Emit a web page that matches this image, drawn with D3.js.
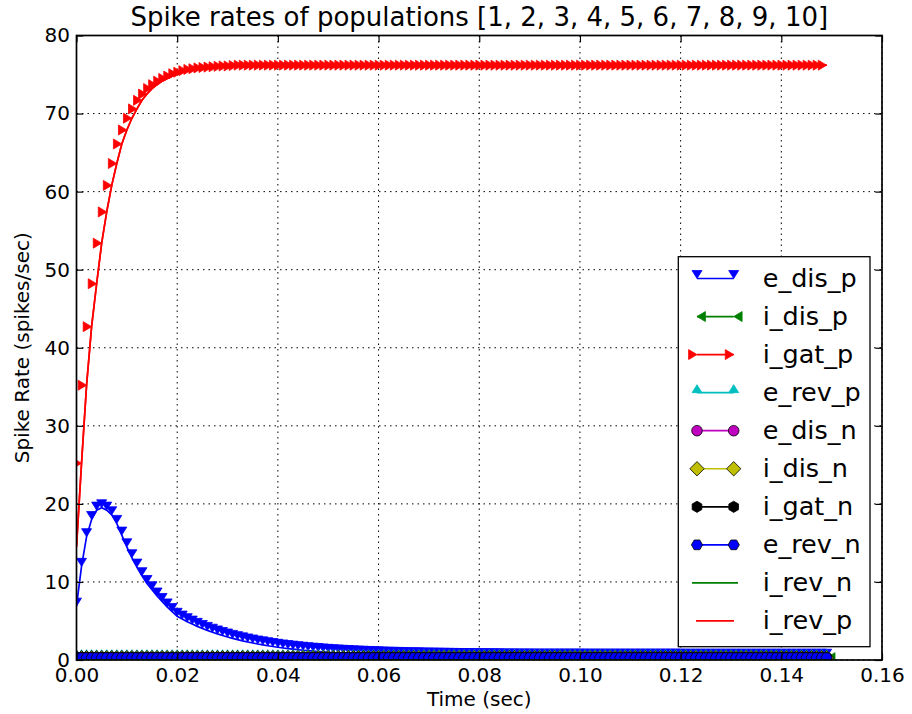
<!DOCTYPE html>
<html>
<head>
<meta charset="utf-8">
<script src="https://cdn.jsdelivr.net/npm/d3@7"></script>
<style>
  body { margin: 0; background: #fff; }
  text { font-family: "DejaVu Sans", sans-serif; fill: #000; }
</style>
</head>
<body>
<div id="chart"></div>
<script>
// sample times (ms)
const timeMs = [
  0, 1, 2, 3, 4, 5, 6, 7, 8, 9, 10, 11, 12, 13, 14, 15, 16, 17, 18, 19, 20, 21, 22, 23, 24,
  25, 26, 27, 28, 29, 30, 31, 32, 33, 34, 35, 36, 37, 38, 39, 40, 41, 42, 43, 44, 45, 46, 47, 48, 49,
  50, 51, 52, 53, 54, 55, 56, 57, 58, 59, 60, 61, 62, 63, 64, 65, 66, 67, 68, 69, 70, 71, 72, 73, 74,
  75, 76, 77, 78, 79, 80, 81, 82, 83, 84, 85, 86, 87, 88, 89, 90, 91, 92, 93, 94, 95, 96, 97, 98, 99,
  100, 101, 102, 103, 104, 105, 106, 107, 108, 109, 110, 111, 112, 113, 114, 115, 116, 117, 118, 119, 120, 121, 122, 123, 124,
  125, 126, 127, 128, 129, 130, 131, 132, 133, 134, 135, 136, 137, 138, 139, 140, 141, 142, 143, 144, 145, 146, 147, 148, 149
];

const eDisP = [
  6.9, 12.0, 15.8, 18.0, 19.2, 19.5, 19.2, 18.6, 17.5, 16.0, 14.5, 13.1, 11.9, 10.8, 9.8, 9.0, 8.2, 7.5, 6.8, 6.2,
  5.6, 5.24, 4.91, 4.60, 4.31, 4.04, 3.79, 3.56, 3.34, 3.14, 2.95, 2.77, 2.61, 2.45, 2.31, 2.18, 2.05, 1.94, 1.83, 1.73,
  1.63, 1.54, 1.46, 1.39, 1.32, 1.25, 1.19, 1.13, 1.08, 1.03, 0.98, 0.94, 0.90, 0.86, 0.83, 0.79, 0.76, 0.74, 0.71, 0.69,
  0.66, 0.64, 0.62, 0.60, 0.59, 0.57, 0.55, 0.54, 0.53, 0.52, 0.51, 0.50, 0.49, 0.48, 0.47, 0.46, 0.45, 0.44, 0.44, 0.43,
  0.43, 0.42, 0.42, 0.41, 0.41, 0.40, 0.40, 0.40, 0.39, 0.39, 0.39, 0.38, 0.38, 0.38, 0.38, 0.38, 0.38, 0.38, 0.38, 0.38,
  0.38, 0.37, 0.37, 0.37, 0.37, 0.37, 0.37, 0.37, 0.37, 0.37, 0.37, 0.37, 0.37, 0.37, 0.37, 0.37, 0.37, 0.37, 0.37, 0.37,
  0.37, 0.36, 0.36, 0.36, 0.36, 0.36, 0.36, 0.36, 0.36, 0.36, 0.36, 0.36, 0.36, 0.36, 0.36, 0.36, 0.36, 0.36, 0.36, 0.36,
  0.36, 0.36, 0.36, 0.36, 0.36, 0.36, 0.36, 0.36, 0.36, 0.36
];

const iGatP = [
  14.5, 25.2, 35.2, 42.7, 48.2, 53.4, 57.4, 60.8, 63.6, 66.1, 67.9, 69.4, 70.6, 71.7, 72.5, 73.2, 73.7, 74.15, 74.5, 74.8,
  75.1, 75.3, 75.5, 75.65, 75.75, 75.85, 75.9, 75.95, 76.0, 76.05, 76.1, 76.1, 76.15, 76.2, 76.2, 76.2, 76.2, 76.2, 76.2, 76.2,
  76.2, 76.2, 76.2, 76.2, 76.2, 76.2, 76.2, 76.2, 76.2, 76.2, 76.2, 76.2, 76.2, 76.2, 76.2, 76.2, 76.2, 76.2, 76.2, 76.2,
  76.2, 76.2, 76.2, 76.2, 76.2, 76.2, 76.2, 76.2, 76.2, 76.2, 76.2, 76.2, 76.2, 76.2, 76.2, 76.2, 76.2, 76.2, 76.2, 76.2,
  76.2, 76.2, 76.2, 76.2, 76.2, 76.2, 76.2, 76.2, 76.2, 76.2, 76.2, 76.2, 76.2, 76.2, 76.2, 76.2, 76.2, 76.2, 76.2, 76.2,
  76.2, 76.2, 76.2, 76.2, 76.2, 76.2, 76.2, 76.2, 76.2, 76.2, 76.2, 76.2, 76.2, 76.2, 76.2, 76.2, 76.2, 76.2, 76.2, 76.2,
  76.2, 76.2, 76.2, 76.2, 76.2, 76.2, 76.2, 76.2, 76.2, 76.2, 76.2, 76.2, 76.2, 76.2, 76.2, 76.2, 76.2, 76.2, 76.2, 76.2,
  76.2, 76.2, 76.2, 76.2, 76.2, 76.2, 76.2, 76.2, 76.2, 76.2
];

// the i_rev_p line lies on top of the i_gat_p line in the picture
const iRevP = iGatP;

// e_rev_p, i_dis_p and the *_n populations with markers sit just above the floor
const flatRates = [
  0.3, 0.3, 0.3, 0.3, 0.3, 0.3, 0.3, 0.3, 0.3, 0.3, 0.3, 0.3, 0.3, 0.3, 0.3, 0.3, 0.3, 0.3, 0.3, 0.3, 0.3, 0.3, 0.3, 0.3, 0.3,
  0.3, 0.3, 0.3, 0.3, 0.3, 0.3, 0.3, 0.3, 0.3, 0.3, 0.3, 0.3, 0.3, 0.3, 0.3, 0.3, 0.3, 0.3, 0.3, 0.3, 0.3, 0.3, 0.3, 0.3, 0.3,
  0.3, 0.3, 0.3, 0.3, 0.3, 0.3, 0.3, 0.3, 0.3, 0.3, 0.3, 0.3, 0.3, 0.3, 0.3, 0.3, 0.3, 0.3, 0.3, 0.3, 0.3, 0.3, 0.3, 0.3, 0.3,
  0.3, 0.3, 0.3, 0.3, 0.3, 0.3, 0.3, 0.3, 0.3, 0.3, 0.3, 0.3, 0.3, 0.3, 0.3, 0.3, 0.3, 0.3, 0.3, 0.3, 0.3, 0.3, 0.3, 0.3, 0.3,
  0.3, 0.3, 0.3, 0.3, 0.3, 0.3, 0.3, 0.3, 0.3, 0.3, 0.3, 0.3, 0.3, 0.3, 0.3, 0.3, 0.3, 0.3, 0.3, 0.3, 0.3, 0.3, 0.3, 0.3, 0.3,
  0.3, 0.3, 0.3, 0.3, 0.3, 0.3, 0.3, 0.3, 0.3, 0.3, 0.3, 0.3, 0.3, 0.3, 0.3, 0.3, 0.3, 0.3, 0.3, 0.3, 0.3, 0.3, 0.3, 0.3, 0.3
];

// i_rev_n is not visible above the axis line
const iRevN = [
  0, 0, 0, 0, 0, 0, 0, 0, 0, 0, 0, 0, 0, 0, 0, 0, 0, 0, 0, 0, 0, 0, 0, 0, 0,
  0, 0, 0, 0, 0, 0, 0, 0, 0, 0, 0, 0, 0, 0, 0, 0, 0, 0, 0, 0, 0, 0, 0, 0, 0,
  0, 0, 0, 0, 0, 0, 0, 0, 0, 0, 0, 0, 0, 0, 0, 0, 0, 0, 0, 0, 0, 0, 0, 0, 0,
  0, 0, 0, 0, 0, 0, 0, 0, 0, 0, 0, 0, 0, 0, 0, 0, 0, 0, 0, 0, 0, 0, 0, 0, 0,
  0, 0, 0, 0, 0, 0, 0, 0, 0, 0, 0, 0, 0, 0, 0, 0, 0, 0, 0, 0, 0, 0, 0, 0, 0,
  0, 0, 0, 0, 0, 0, 0, 0, 0, 0, 0, 0, 0, 0, 0, 0, 0, 0, 0, 0, 0, 0, 0, 0, 0
];

const labels = ['e_dis_p', 'i_dis_p', 'i_gat_p', 'e_rev_p', 'e_dis_n', 'i_dis_n', 'i_gat_n', 'e_rev_n', 'i_rev_n', 'i_rev_p'];
const xTicks = [0, 0.02, 0.04, 0.06, 0.08, 0.10, 0.12, 0.14, 0.16];
const yTicks = [0, 10, 20, 30, 40, 50, 60, 70, 80];

const WIDTH = 912;
const HEIGHT = 714;
const LEFT = 76.5;
const RIGHT = 882;
const TOP = 35.5;
const BOTTOM = 660;

// marker shapes, drawn around the data point the way the old renderer placed them
const markerPaths = {
  v: 'M0,0L-5,-8L5,-8Z',
  '>': 'M0,0L-8.4,-5L-8.4,5Z',
  '<': 'M0,0L8.4,-5L8.4,5Z',
  '^': 'M-5,0L5,0L0,-8Z',
  o: d3.symbol(d3.symbolCircle, Math.PI * 5.3 * 5.3)(),
  D: 'M0,-7.2L7.2,0L0,7.2L-7.2,0Z',
  h: 'M0,-5.6L4.85,-2.8L4.85,2.8L0,5.6L-4.85,2.8L-4.85,-2.8Z',
  H: 'M-5.6,0L-2.8,-4.85L2.8,-4.85L5.6,0L2.8,4.85L-2.8,4.85Z',
};

const series = [
  { values: eDisP, color: '#0000ff', marker: 'v', edge: '#0000ff' },
  { values: flatRates, color: '#008000', marker: '<', edge: '#008000' },
  { values: iGatP, color: '#ff0000', marker: '>', edge: '#ff0000' },
  { values: flatRates, color: '#00bfbf', marker: '^', edge: '#00bfbf' },
  { values: flatRates, color: '#bf00bf', marker: 'o', edge: '#000' },
  { values: flatRates, color: '#bfbf00', marker: 'D', edge: '#000' },
  { values: flatRates, color: '#000000', marker: 'h', edge: '#000' },
  { values: flatRates, color: '#0000ff', marker: 'H', edge: '#000' },
  { values: iRevN, color: '#008000', marker: null },
  { values: iRevP, color: '#ff0000', marker: null },
].map((s, i) => ({
  ...s,
  label: labels[i],
  points: timeMs.map((t, j) => [t / 1000, s.values[j]]),
}));

const svg = d3.create('svg').attr('width', WIDTH).attr('height', HEIGHT);
svg.append('rect').attr('width', WIDTH).attr('height', HEIGHT).attr('fill', '#fff');

const xScale = d3.scaleLinear().domain([0, 0.16]).range([LEFT, RIGHT]);
const yScale = d3.scaleLinear().domain([0, 80]).range([BOTTOM, TOP]);

svg
  .append('clipPath')
  .attr('id', 'plot-clip')
  .append('rect')
  .attr('x', LEFT)
  .attr('y', TOP)
  .attr('width', RIGHT - LEFT)
  .attr('height', BOTTOM - TOP);

// dotted grid
const grid = svg.append('g').attr('stroke', '#000').attr('stroke-width', 1).attr('stroke-dasharray', '1.5,4');
grid
  .selectAll('.gx')
  .data(xTicks)
  .join('line')
  .attr('x1', (d) => xScale(d))
  .attr('x2', (d) => xScale(d))
  .attr('y1', TOP)
  .attr('y2', BOTTOM);
grid
  .selectAll('.gy')
  .data(yTicks)
  .join('line')
  .attr('x1', LEFT)
  .attr('x2', RIGHT)
  .attr('y1', (d) => yScale(d))
  .attr('y2', (d) => yScale(d));

const plot = svg.append('g').attr('clip-path', 'url(#plot-clip)');
const line = d3
  .line()
  .x((d) => xScale(d[0]))
  .y((d) => yScale(d[1]));

series.forEach((s) => {
  const g = plot.append('g');
  g.append('path')
    .attr('d', line(s.points))
    .attr('fill', 'none')
    .attr('stroke', s.color)
    .attr('stroke-width', 1.7);
  if (s.marker) {
    g.selectAll('path.m')
      .data(s.points)
      .join('path')
      .attr('class', 'm')
      .attr('d', markerPaths[s.marker])
      .attr('transform', (d) => `translate(${xScale(d[0])},${yScale(d[1])})`)
      .attr('fill', s.color)
      .attr('stroke', s.edge)
      .attr('stroke-width', 0.8);
  }
});

// frame and inward ticks on all sides
const axes = svg.append('g');
const fmtX = d3.format('.2f');
axes
  .append('g')
  .attr('transform', `translate(0,${BOTTOM})`)
  .call(d3.axisBottom(xScale).tickValues(xTicks).tickSize(-6.7).tickPadding(8).tickFormat(fmtX));
axes
  .append('g')
  .attr('transform', `translate(0,${TOP})`)
  .call(d3.axisTop(xScale).tickValues(xTicks).tickSize(-6.7).tickFormat(''));
axes
  .append('g')
  .attr('transform', `translate(${LEFT},0)`)
  .call(d3.axisLeft(yScale).tickValues(yTicks).tickSize(-6.7).tickPadding(6.5));
axes
  .append('g')
  .attr('transform', `translate(${RIGHT},0)`)
  .call(d3.axisRight(yScale).tickValues(yTicks).tickSize(-6.7).tickFormat(''));
axes.selectAll('.domain').remove();
axes.selectAll('.tick line').attr('stroke', '#000').attr('stroke-width', 1.2);
axes.selectAll('.tick text').attr('font-size', 20).attr('font-family', 'DejaVu Sans').attr('fill', '#000');

svg
  .append('rect')
  .attr('x', LEFT)
  .attr('y', TOP)
  .attr('width', RIGHT - LEFT)
  .attr('height', BOTTOM - TOP)
  .attr('fill', 'none')
  .attr('stroke', '#000')
  .attr('stroke-width', 1.7);

// legend
const legend = svg.append('g');
legend
  .append('rect')
  .attr('x', 678.3)
  .attr('y', 256.7)
  .attr('width', 191.7)
  .attr('height', 390)
  .attr('fill', '#fff')
  .attr('stroke', '#000')
  .attr('stroke-width', 1.3);

const rowY = (i) => 278.5 + i * 38.05;
series.forEach((s, i) => {
  const yRow = rowY(i);
  const g = legend.append('g');
  const [x0, x1] = s.marker ? [697, 733.7] : i === 8 ? [692, 738] : [696, 734];
  g.append('line')
    .attr('x1', x0)
    .attr('x2', x1)
    .attr('y1', yRow)
    .attr('y2', yRow)
    .attr('stroke', s.color)
    .attr('stroke-width', 1.7);
  if (s.marker) {
    [x0, x1].forEach((mx) =>
      g.append('path')
        .attr('d', markerPaths[s.marker])
        .attr('transform', `translate(${mx},${yRow})`)
        .attr('fill', s.color)
        .attr('stroke', s.edge)
        .attr('stroke-width', 0.8)
    );
  }
  g.append('text')
    .attr('x', 762.7)
    .attr('y', yRow + 8.5)
    .attr('font-size', 25.5)
    .text(s.label);
});

svg
  .append('text')
  .attr('x', (LEFT + RIGHT) / 2)
  .attr('y', 26)
  .attr('text-anchor', 'middle')
  .attr('font-size', 26)
  .text('Spike rates of populations [1, 2, 3, 4, 5, 6, 7, 8, 9, 10]');

svg
  .append('text')
  .attr('x', (LEFT + RIGHT) / 2)
  .attr('y', 706)
  .attr('text-anchor', 'middle')
  .attr('font-size', 20)
  .text('Time (sec)');

svg
  .append('text')
  .attr('transform', `translate(29,${(TOP + BOTTOM) / 2}) rotate(-90)`)
  .attr('text-anchor', 'middle')
  .attr('font-size', 20)
  .text('Spike Rate (spikes/sec)');

document.getElementById('chart').appendChild(svg.node());
</script>
</body>
</html>
